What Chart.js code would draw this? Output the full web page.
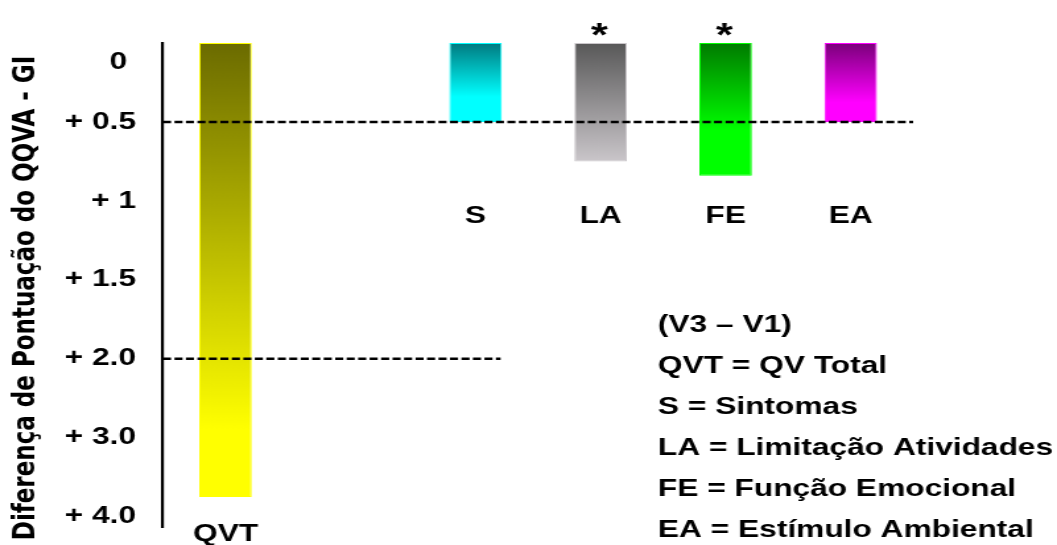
<!DOCTYPE html>
<html>
<head>
<meta charset="utf-8">
<script src="https://cdn.jsdelivr.net/npm/chart.js@4.4.1/dist/chart.umd.min.js"></script>
<style>
  html, body { margin: 0; padding: 0; background: #fff; overflow: hidden; }
  /* the figure is drawn narrow and widened horizontally */
  #chart { display: block; transform: scaleX(1.3196); transform-origin: 0 0; }
</style>
</head>
<body>
<canvas id="chart" width="801" height="545"></canvas>
<script>
// ---- data ----
const categories   = ['QVT', '', 'S', 'LA', 'FE', 'EA'];
const scoreChange  = [3.75, null, 0.5, 0.75, 0.84, 0.5];
const significance = ['', '', '', '*', '*', ''];
const tickValues   = [0, 0.5, 1, 1.5, 2, 3, 4];
const tickLabels   = ['0', '+ 0.5', '+ 1', '+ 1.5', '+ 2.0', '+ 3.0', '+ 4.0'];
const axisMax      = 4.13;
const guideValues  = [0.5, 2.0];
const guideEnds    = [5.5, 2.2];   // category position where each dashed line stops
const axisTitle    = 'Diferença de Pontuação do QQVA - GI';
const notes = [
  '(V3 – V1)',
  'QVT = QV Total',
  'S = Sintomas',
  'LA = Limitação Atividades',
  'FE = Função Emocional',
  'EA = Estímulo Ambiental'
];

// ---- styles ----
const topColors  = ['#6b6b00', '#000', '#007a80', '#585858', '#007a00', '#7a007a'];
const baseColors = ['#ffff00', '#000', '#00ffff', '#cac6ca', '#00ff00', '#ff00ff'];
const fadeStops  = [0.85, 1, 0.68, 1, 0.66, 0.75];
const SANS = '"Liberation Sans", Arial, Helvetica, sans-serif';
const labelFont = { family: SANS, size: 24, weight: 'bold', lineHeight: 1 };

// ---- y scale with evenly spaced, unevenly valued steps ----
function stepPosition(v) {
  const t = tickValues, n = t.length;
  for (let i = 1; i < n; i++) {
    if (v <= t[i]) return i - 1 + (v - t[i - 1]) / (t[i] - t[i - 1]);
  }
  return n - 1 + (v - t[n - 1]) / (t[n - 1] - t[n - 2]);
}
function stepValue(p) {
  const t = tickValues, n = t.length;
  const i = Math.max(0, Math.min(n - 2, Math.floor(p)));
  return t[i] + (p - i) * (t[i + 1] - t[i]);
}
class StepScale extends Chart.LinearScale {
  buildTicks() {
    return tickValues.map(value => ({ value }));
  }
  getPixelForValue(value) {
    if (value === null || value === undefined || isNaN(value)) return NaN;
    const p0 = stepPosition(this.min), p1 = stepPosition(this.max);
    return this.getPixelForDecimal((stepPosition(value) - p0) / (p1 - p0));
  }
  getValueForPixel(pixel) {
    const p0 = stepPosition(this.min), p1 = stepPosition(this.max);
    return stepValue(p0 + this.getDecimalForPixel(pixel) * (p1 - p0));
  }
}
StepScale.id = 'step';
StepScale.defaults = Chart.LinearScale.defaults;
Chart.register(StepScale);

// vertical fade on every bar, from dark at the zero line to bright at its end
function barFill(c) {
  const i = c.dataIndex;
  if (c.type !== 'data' || c.raw == null || !c.chart.chartArea) return baseColors[i] || '#000';
  const y = c.chart.scales.y;
  const g = c.chart.ctx.createLinearGradient(0, y.getPixelForValue(0), 0, y.getPixelForValue(c.raw));
  g.addColorStop(0, topColors[i]);
  g.addColorStop(fadeStops[i], baseColors[i]);
  g.addColorStop(1, baseColors[i]);
  return g;
}

// category label row placed at a value of the y scale
function labelRow(yValue, padding, show) {
  return {
    type: 'category',
    position: { y: yValue },
    offset: true,
    grid: { display: false, drawTicks: false },
    border: { display: false },
    ticks: {
      autoSkip: false, maxRotation: 0, padding, color: '#000', font: labelFont,
      callback: (v, i) => (show(i) ? categories[i] : '')
    }
  };
}

const annotations = {
  id: 'annotations',
  afterDatasetsDraw(chart) {
    const { ctx, chartArea, scales: { x, y } } = chart;
    ctx.save();
    // dashed reference lines
    ctx.strokeStyle = '#000';
    ctx.lineWidth = 2.5;
    ctx.setLineDash([6.1, 2.6]);
    guideValues.forEach((v, k) => {
      const py = y.getPixelForValue(v);
      ctx.beginPath();
      ctx.moveTo(chartArea.left, py);
      ctx.lineTo(x.getPixelForValue(guideEnds[k]), py);
      ctx.stroke();
    });
    ctx.setLineDash([]);
    // significance marks above the bars
    ctx.fillStyle = '#000';
    ctx.font = 'bold 33px ' + SANS;
    ctx.textAlign = 'center';
    ctx.textBaseline = 'alphabetic';
    significance.forEach((m, i) => {
      if (m) ctx.fillText(m, x.getPixelForValue(i) - 1, y.getPixelForValue(0) + 3);
    });
    ctx.restore();
  },
  afterDraw(chart) {
    const { ctx } = chart;
    ctx.save();
    ctx.fillStyle = '#000';
    // rotated axis title
    ctx.translate(20.1, 298);
    ctx.rotate(-Math.PI / 2);
    ctx.font = 'bold 23px "DejaVu Sans", Verdana, sans-serif';
    ctx.textAlign = 'center';
    ctx.textBaseline = 'middle';
    ctx.fillText(axisTitle, 0, 0);
    ctx.restore();
    // key to the abbreviations
    ctx.save();
    ctx.fillStyle = '#000';
    ctx.font = 'bold 24px ' + SANS;
    ctx.textAlign = 'left';
    ctx.textBaseline = 'middle';
    notes.forEach((line, k) => ctx.fillText(line, 498.6, 325.5 + k * 41));
    ctx.restore();
  }
};

new Chart(document.getElementById('chart'), {
  type: 'bar',
  data: {
    labels: categories,
    datasets: [{
      data: scoreChange,
      backgroundColor: barFill,
      borderColor: baseColors,
      borderWidth: 1,
      borderSkipped: false,
      barPercentage: 0.42,
      categoryPercentage: 1
    }]
  },
  options: {
    responsive: false,
    animation: false,
    devicePixelRatio: 1,
    layout: { padding: { top: 43, right: 109, bottom: 0, left: 0 } },
    plugins: { legend: { display: false }, tooltip: { enabled: false } },
    scales: {
      x: {
        offset: true,
        grid: { display: false, drawTicks: false },
        border: { display: false },
        ticks: { display: false },
        afterFit: s => { s.height = 18; }
      },
      xFoot: labelRow(axisMax, -4.5, i => i === 0),
      xMid: labelRow(1, 3, i => i > 0),
      y: {
        type: 'step',
        reverse: true,
        min: 0,
        max: axisMax,
        grid: { display: false, drawTicks: false },
        border: { display: true, color: '#000', width: 2.2 },
        ticks: {
          autoSkip: false, padding: 20.5, color: '#000',
          font: { ...labelFont, lineHeight: 1.6 },
          callback: (v, i) => (i === 0 ? ['', tickLabels[0] + ' '] : tickLabels[i])
        },
        afterFit: s => { s.width = 123.5; s.paddingTop = 0; s.paddingBottom = 0; }
      }
    }
  },
  plugins: [annotations]
});
</script>
</body>
</html>
